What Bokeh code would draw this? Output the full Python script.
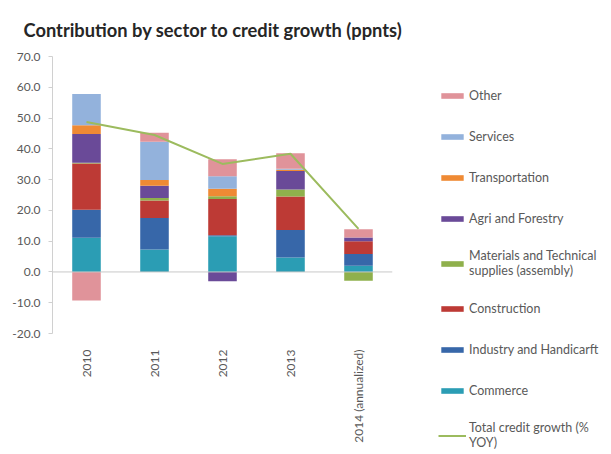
import math
from bokeh.plotting import figure
from bokeh.models import (ColumnDataSource, Legend, LegendItem, Span,
                          NumeralTickFormatter, FixedTicker, Range1d, FactorRange)
from bokeh.embed import file_html
from bokeh.resources import INLINE

# ---- data ----
years = ["2010", "2011", "2012", "2013", "2014 (annualized)"]
commerce = [11.1, 7.3, 11.6, 4.7, 2.0]
industry = [9.1, 10.2, 0.3, 8.9, 3.8]
construction = [15.0, 5.7, 11.8, 10.9, 4.2]
materials = [0.3, 0.8, 0.9, 2.3, -2.9]
agri = [9.3, 4.0, -3.0, 6.0, 1.2]
transport = [2.9, 1.9, 2.4, 0.4, 0.0]
services = [10.1, 12.4, 4.1, 0.3, 0.0]
other = [-9.3, 2.9, 5.5, 5.1, 2.7]
total_growth = [48.7, 44.5, 35.1, 38.4, 14.0]
y_ticks = [-20, -10, 0, 10, 20, 30, 40, 50, 60, 70]

series_names = ["Commerce", "Industry and Handicarft", "Construction",
                "Materials and Technical\nsupplies (assembly)", "Agri and Forestry",
                "Transportation", "Services", "Other"]
series_values = [commerce, industry, construction, materials, agri,
                 transport, services, other]
series_colors = ["#2b9db4", "#3767a9", "#bd3a35", "#8fb04c", "#6a4a98",
                 "#ef8a34", "#93b2dc", "#e0939a"]

FONT = "Lato"

p = figure(x_range=FactorRange(*years, range_padding=0), y_range=Range1d(-20, 70),
           frame_width=340, frame_height=277, output_backend="svg", toolbar_location=None,
           min_border_left=52, min_border_bottom=113, min_border_top=56, min_border_right=0)

p.title.text = "Contribution by sector to credit growth (ppnts)"
p.title.text_font = FONT
p.title.text_font_size = "18.3px"
p.title.text_font_style = "bold"
p.title.text_color = "#262626"
p.title.align = "left"
p.title.offset = -29
p.title.standoff = 31

p.outline_line_color = None
p.xgrid.grid_line_color = None
p.ygrid.grid_line_color = None

pos_base = [0.0] * len(years)
neg_base = [0.0] * len(years)
items = []
for name, vals, col in zip(series_names, series_values, series_colors):
    bottoms, tops = [], []
    for i, v in enumerate(vals):
        if v >= 0:
            bottoms.append(pos_base[i]); tops.append(pos_base[i] + v)
            pos_base[i] += v
        else:
            bottoms.append(neg_base[i]); tops.append(neg_base[i] + v)
            neg_base[i] += v
    src = ColumnDataSource(dict(x=years, bottom=bottoms, top=tops))
    r = p.vbar(x="x", bottom="bottom", top="top", width=0.42, source=src,
               fill_color=col, line_color=None)
    items.append(LegendItem(label=name, renderers=[r]))

zero = Span(location=0, dimension="width", line_color="#c8c8c8", line_width=1)
p.add_layout(zero)

line_src = ColumnDataSource(dict(x=years, y=total_growth))
lr = p.line(x="x", y="y", source=line_src, line_color="#9cbb5e", line_width=2)

legend_items = list(reversed(items)) + [LegendItem(label="Total credit growth (%\nYOY)", renderers=[lr])]
legend = Legend(items=legend_items, location=(46, -117))
legend.border_line_color = None
legend.background_fill_alpha = 0
legend.label_text_font = FONT
legend.label_text_font_size = "12.5px"
legend.label_text_color = "#595959"
legend.glyph_width = 28
legend.glyph_height = 7
legend.label_height = 22
legend.spacing = 19
legend.margin = 0
legend.padding = 10
legend.label_standoff = 3
p.add_layout(legend, "right")

p.yaxis.ticker = FixedTicker(ticks=y_ticks)
p.yaxis.formatter = NumeralTickFormatter(format="0.0")
p.yaxis.major_label_text_font = FONT
p.yaxis.major_label_text_font_size = "12px"
p.yaxis.major_label_text_color = "#595959"
p.yaxis.axis_line_color = "#d0d0d0"
p.yaxis.major_tick_line_color = "#d0d0d0"
p.yaxis.major_tick_in = 0
p.yaxis.major_tick_out = 4
p.yaxis.minor_tick_line_color = None
p.yaxis.major_label_standoff = 8

p.xaxis.major_label_orientation = math.pi / 2
p.xaxis.major_label_text_font = FONT
p.xaxis.major_label_text_font_size = "12px"
p.xaxis.major_label_text_color = "#595959"
p.xaxis.axis_line_color = None
p.xaxis.major_tick_line_color = None
p.xaxis.minor_tick_line_color = None
p.xaxis.major_label_standoff = 10

open("out.html", "w").write(file_html(p, INLINE))
